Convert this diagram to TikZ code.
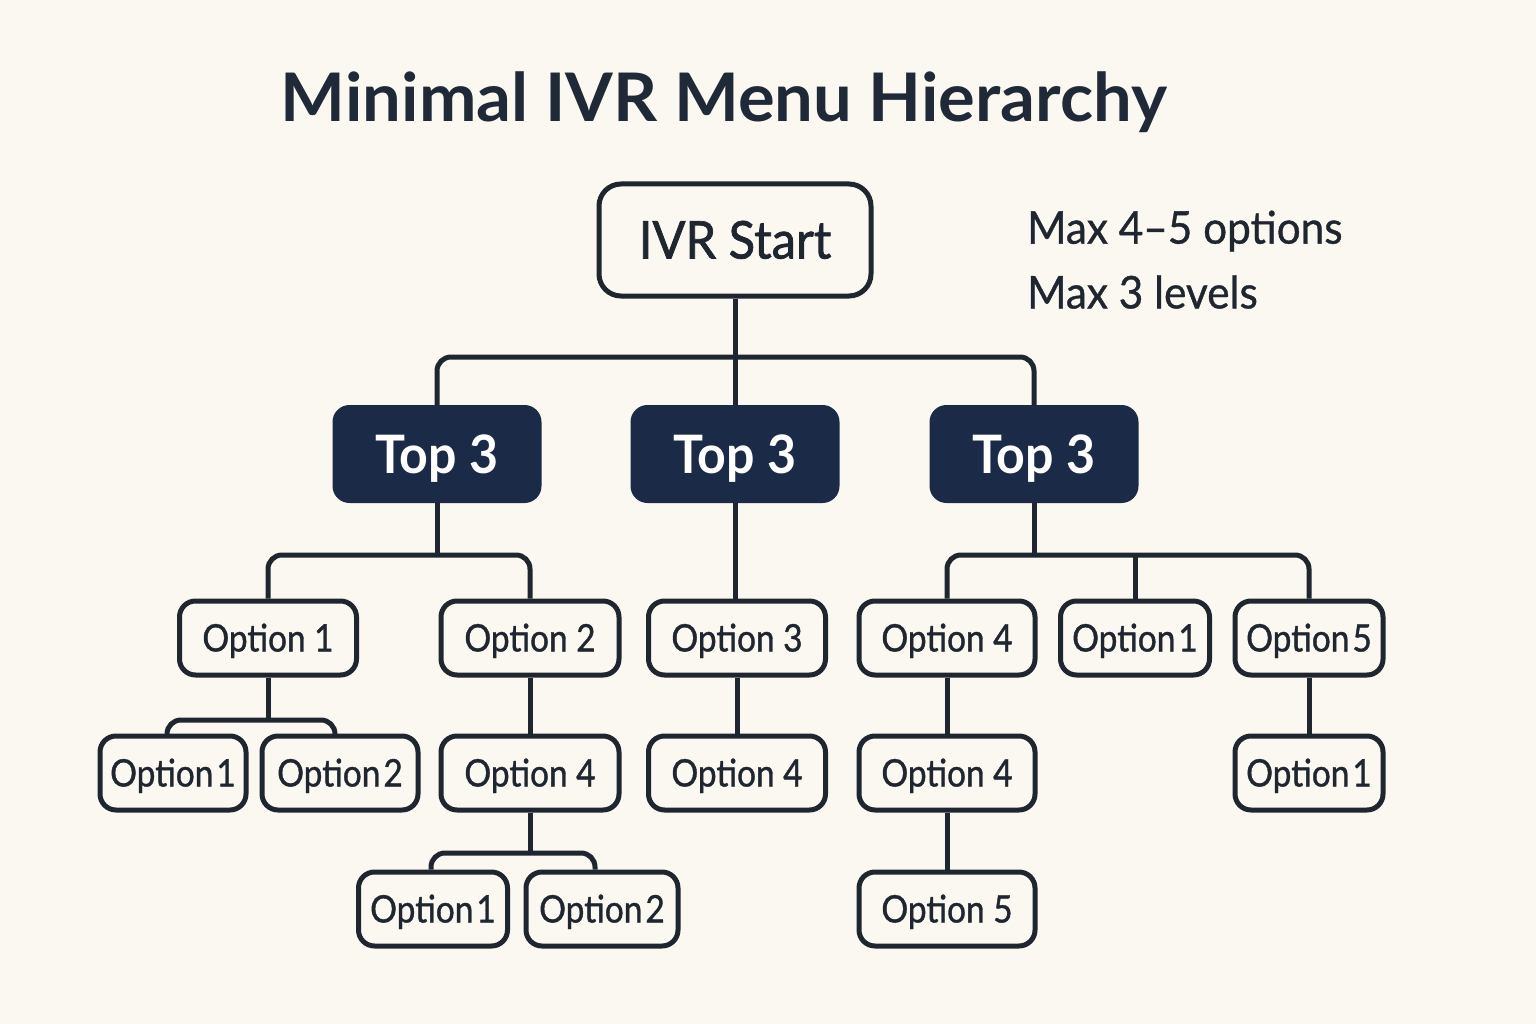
\documentclass[tikz,border=0pt]{standalone}
\usepackage{fontspec}
\setmainfont{Lato}
\newfontfamily\bodyf[FakeStretch=0.88,FakeBold=1.0]{Lato}
\newfontfamily\notef[FakeStretch=0.94,FakeBold=0.8]{Lato}
\newfontfamily\startf[FakeStretch=0.94,FakeBold=1.4]{Lato}
\newfontfamily\topf[FakeStretch=0.945]{Lato Bold}
\newfontfamily\titlef[FakeStretch=1.025]{Lato Bold}
\definecolor{bg}{HTML}{FBF8F1}
\definecolor{ink}{HTML}{1F2630}
\definecolor{navy}{HTML}{1B2B47}
\definecolor{titlec}{HTML}{1F2937}
\newcommand{\opt}[1]{Option\kern3pt#1}
\tikzset{
  optbox/.style={draw=ink, line width=5pt, rounded corners=16pt, fill=bg, minimum height=74pt, inner sep=0pt, text=ink, text height=27pt, text depth=0pt, font=\bodyf\fontsize{38}{40}\selectfont},
  topbox/.style={draw=navy, line width=2pt, rounded corners=16pt, fill=navy, minimum width=207pt, minimum height=96pt, inner sep=0pt, text=white, text height=38pt, text depth=0pt, font=\topf\fontsize{53}{56}\selectfont},
  startbox/.style={draw=ink, line width=5pt, rounded corners=22pt, fill=bg, minimum width=272pt, minimum height=112pt, inner sep=0pt, text=ink, text height=37pt, text depth=0pt, font=\startf\fontsize{52}{56}\selectfont},
  conn/.style={draw=ink, line width=5pt, rounded corners=14pt},
  note/.style={anchor=west, text=ink, font=\notef\fontsize{45}{48}\selectfont, inner sep=0pt}
}
\begin{document}
\begin{tikzpicture}[x=1pt,y=-1pt]
\fill[bg] (0,0) rectangle (1536,1024);
\useasboundingbox (0,0) rectangle (1536,1024);
\node[text=titlec, font=\titlef\fontsize{67}{70}\selectfont] (title) at (724,102) {Minimal IVR Menu Hierarchy};
\node[note] (n1) at (1027,231) {Max 4–5 options};
\node[note] (n2) at (1027,292) {Max 3 levels};
\coordinate (b0) at (735,357);
\coordinate (b1) at (437,555);
\coordinate (b3) at (1034,555);
\coordinate (b11) at (268,720);
\coordinate (b24) at (530,853);
\node[startbox] (ivr) at (735,240) {IVR Start};
\node[topbox] (t1) at (437,454) {Top 3};
\node[topbox] (t2) at (735,454) {Top 3};
\node[topbox] (t3) at (1034,454) {Top 3};
% level 2
\node[optbox, minimum width=177pt] (a1) at (268,638) {Option 1};
\node[optbox, minimum width=178pt] (a2) at (530,638) {Option 2};
\node[optbox, minimum width=177pt] (a3) at (737,638) {Option 3};
\node[optbox, minimum width=176pt] (a4) at (947,638) {Option 4};
\node[optbox, minimum width=149pt] (a5) at (1135,638) {\opt{1}};
\node[optbox, minimum width=148pt] (a6) at (1309,638) {\opt{5}};
% level 3
\node[optbox, minimum width=146pt] (c1) at (173,773) {\opt{1}};
\node[optbox, minimum width=156pt] (c2) at (340,773) {\opt{2}};
\node[optbox, minimum width=178pt] (c3) at (530,773) {Option 4};
\node[optbox, minimum width=177pt] (c4) at (737,773) {Option 4};
\node[optbox, minimum width=176pt] (c5) at (947,773) {Option 4};
\node[optbox, minimum width=148pt] (c6) at (1309,773) {\opt{1}};
% level 4
\node[optbox, minimum width=149pt] (d1) at (433,909) {\opt{1}};
\node[optbox, minimum width=152pt] (d2) at (602,909) {\opt{2}};
\node[optbox, minimum width=176pt] (d3) at (947,909) {Option 5};
% connectors
\draw[conn] (ivr.south) -- (t2.north);
\draw[conn] (t1.north) |- (b0) -| (t3.north);
\draw[conn] (t1.south) -- (b1);
\draw[conn] (a1.north) |- (b1) -| (a2.north);
\draw[conn] (t2.south) -- (t2.south |- a3.north);
\draw[conn] (t3.south) -- (b3);
\draw[conn] (a4.north) |- (b3) -| (a6.north);
\draw[conn] (a5.north) -- (a5.north |- b3);
\draw[conn] (a1.south) -- (b11);
\draw[conn] (c1.north -| 167,0) |- (b11) -| (c2.north -| 335,0);
\draw[conn] (a2.south) -- (c3.north);
\draw[conn] (a3.south) -- (c4.north);
\draw[conn] (a4.south) -- (c5.north);
\draw[conn] (a6.south) -- (c6.north);
\draw[conn] (c3.south) -- (b24);
\draw[conn] (d1.north -| 431,0) |- (b24) -| (d2.north -| 595,0);
\draw[conn] (c5.south) -- (d3.north);
\end{tikzpicture}
\end{document}
